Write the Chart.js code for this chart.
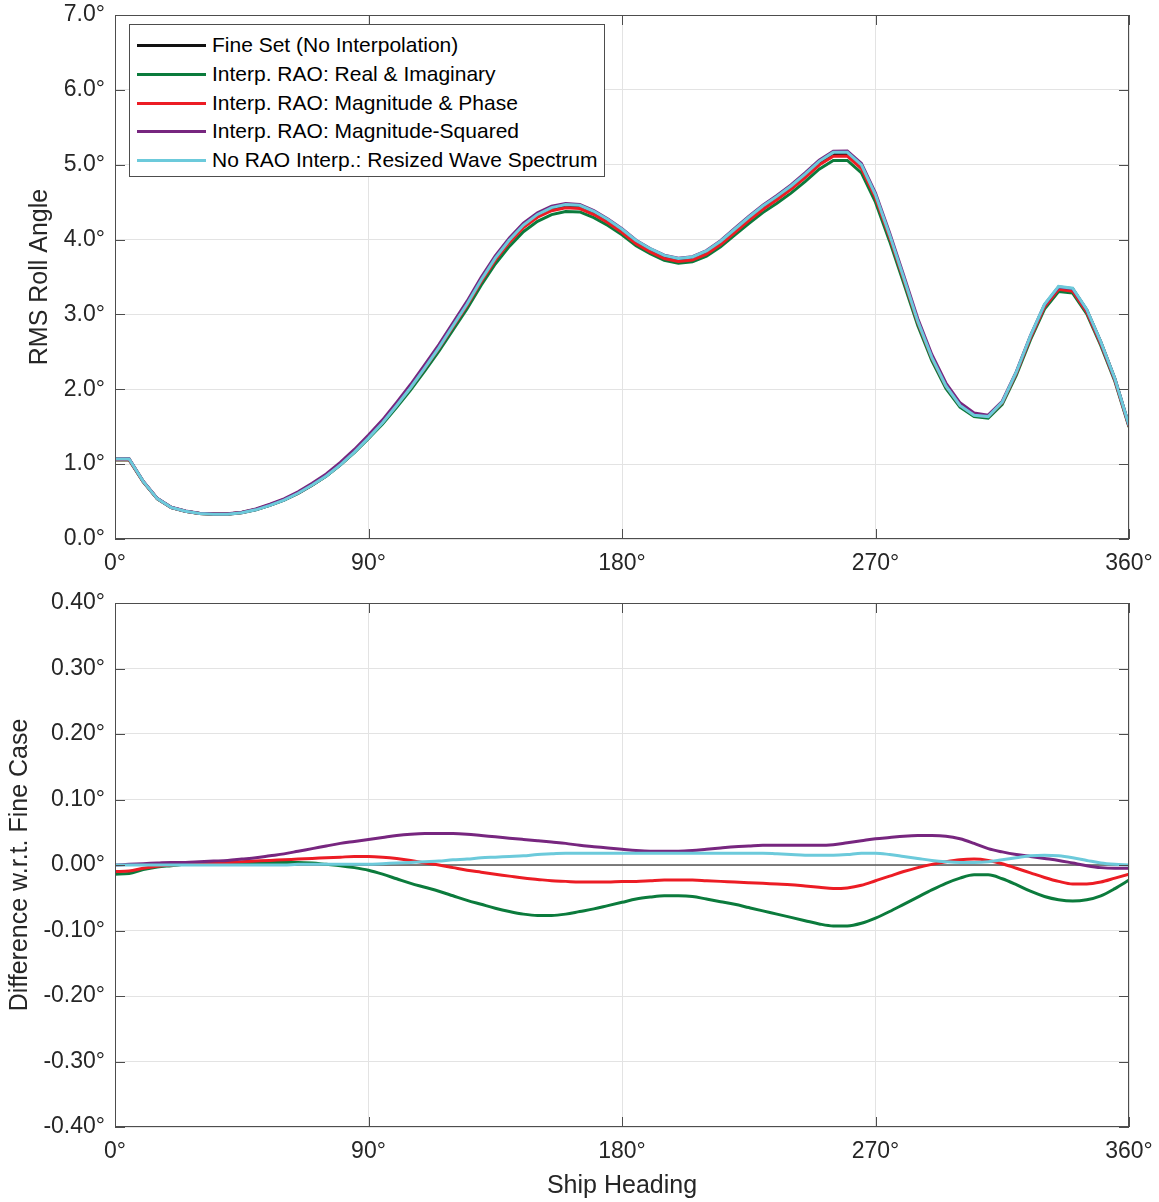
<!DOCTYPE html>
<html>
<head>
<meta charset="utf-8">
<script src="https://cdn.jsdelivr.net/npm/chart.js@4.4.1/dist/chart.umd.min.js"></script>
<style>
  body { margin: 0; background: #fff; font-family: "Liberation Sans", Arial, sans-serif; }
  #wrap { position: relative; width: 1159px; height: 1202px; }
  canvas { position: absolute; left: 0; }
  #legend { position: absolute; left: 129px; top: 24px; width: 474px; height: 151px;
            border: 1px solid #4d4d4d; background: #fff; }
  .item { position: absolute; left: 0; height: 28px; width: 100%; }
  .item .sw { position: absolute; left: 7px; top: 13px; width: 69px; height: 3px; }
  .item .tx { position: absolute; left: 82px; top: 0; font-size: 21px; line-height: 28px; color: #000; white-space: nowrap; }
</style>
</head>
<body>
<div id="wrap">
  <canvas id="rollChart" width="1159" height="580" style="top:0"></canvas>
  <canvas id="diffChart" width="1159" height="622" style="top:580px"></canvas>
  <div id="legend"></div>
</div>
<script>
// ====== DATA ======
const headings = [0, 5, 10, 15, 20, 25, 30, 35, 40, 45, 50, 55, 60, 65, 70, 75, 80, 85, 90,
  95, 100, 105, 110, 115, 120, 125, 130, 135, 140, 145, 150, 155, 160, 165, 170, 175, 180,
  185, 190, 195, 200, 205, 210, 215, 220, 225, 230, 235, 240, 245, 250, 255, 260, 265, 270,
  275, 280, 285, 290, 295, 300, 305, 310, 315, 320, 325, 330, 335, 340, 345, 350, 355, 360];

// RMS roll angle, fine set (deg)
const fineRoll = [1.07, 1.07, 0.77, 0.54, 0.42, 0.37, 0.34, 0.33, 0.33, 0.35, 0.39, 0.45, 0.52,
  0.61, 0.72, 0.84, 0.99, 1.16, 1.35, 1.55, 1.78, 2.02, 2.28, 2.55, 2.84, 3.13, 3.45, 3.74,
  3.98, 4.18, 4.32, 4.41, 4.45, 4.44, 4.36, 4.25, 4.12, 3.97, 3.86, 3.77, 3.73, 3.75, 3.83,
  3.96, 4.12, 4.28, 4.43, 4.56, 4.70, 4.86, 5.03, 5.15, 5.15, 4.98, 4.58, 4.05, 3.48, 2.90,
  2.42, 2.04, 1.78, 1.65, 1.63, 1.82, 2.22, 2.70, 3.12, 3.36, 3.34, 3.06, 2.63, 2.14, 1.52];

// difference w.r.t. fine case (deg)
const diffRealImag = [-0.014, -0.013, -0.007, -0.003, -0.001, 0.001, 0.002, 0.003, 0.003, 0.004,
  0.004, 0.004, 0.004, 0.004, 0.003, 0.001, -0.001, -0.004, -0.008, -0.014, -0.021, -0.028,
  -0.034, -0.040, -0.047, -0.054, -0.060, -0.066, -0.071, -0.075, -0.077, -0.077, -0.075,
  -0.071, -0.067, -0.062, -0.057, -0.052, -0.049, -0.047, -0.047, -0.048, -0.052, -0.056,
  -0.060, -0.065, -0.070, -0.075, -0.080, -0.085, -0.090, -0.093, -0.093, -0.089, -0.081,
  -0.071, -0.060, -0.049, -0.038, -0.028, -0.020, -0.015, -0.015, -0.021, -0.030, -0.040,
  -0.048, -0.053, -0.055, -0.053, -0.047, -0.036, -0.023];

const diffMagPhase = [-0.010, -0.009, -0.005, -0.002, 0.000, 0.001, 0.002, 0.003, 0.004, 0.005,
  0.006, 0.007, 0.008, 0.009, 0.010, 0.011, 0.012, 0.013, 0.013, 0.012, 0.010, 0.007, 0.003,
  0.000, -0.004, -0.008, -0.011, -0.014, -0.017, -0.020, -0.022, -0.024, -0.025, -0.026,
  -0.026, -0.026, -0.025, -0.025, -0.024, -0.023, -0.023, -0.023, -0.024, -0.025, -0.026,
  -0.027, -0.028, -0.029, -0.030, -0.032, -0.034, -0.036, -0.035, -0.031, -0.024, -0.017,
  -0.010, -0.004, 0.001, 0.005, 0.008, 0.009, 0.007, 0.002, -0.005, -0.012, -0.019, -0.025,
  -0.029, -0.029, -0.026, -0.020, -0.014];

const diffMagSq = [0.000, 0.001, 0.002, 0.003, 0.004, 0.004, 0.005, 0.006, 0.007, 0.009, 0.011,
  0.014, 0.017, 0.021, 0.025, 0.029, 0.033, 0.036, 0.039, 0.042, 0.045, 0.047, 0.048, 0.048,
  0.048, 0.047, 0.045, 0.043, 0.041, 0.039, 0.037, 0.035, 0.033, 0.030, 0.028, 0.026, 0.024,
  0.022, 0.021, 0.021, 0.021, 0.022, 0.024, 0.026, 0.028, 0.029, 0.030, 0.030, 0.030, 0.030,
  0.030, 0.031, 0.034, 0.037, 0.040, 0.042, 0.044, 0.045, 0.045, 0.044, 0.040, 0.033, 0.025,
  0.020, 0.016, 0.013, 0.010, 0.007, 0.003, -0.001, -0.004, -0.005, -0.005];

const diffResized = [0.000, 0.000, 0.000, 0.000, 0.000, 0.000, 0.000, 0.000, 0.000, 0.000, 0.000,
  0.000, 0.000, 0.001, 0.001, 0.001, 0.001, 0.001, 0.001, 0.002, 0.003, 0.004, 0.005, 0.006,
  0.008, 0.009, 0.011, 0.012, 0.013, 0.014, 0.016, 0.017, 0.018, 0.018, 0.018, 0.018, 0.018,
  0.018, 0.018, 0.018, 0.018, 0.018, 0.018, 0.018, 0.018, 0.018, 0.018, 0.017, 0.016, 0.015,
  0.015, 0.015, 0.016, 0.018, 0.018, 0.016, 0.013, 0.010, 0.007, 0.005, 0.004, 0.004, 0.005,
  0.008, 0.011, 0.014, 0.015, 0.014, 0.011, 0.007, 0.003, 0.001, 0.000];

// fine case against itself: zero across the full heading range
const fineDiffHeadings = [0, 360];
const fineDiff = [0, 0];

const xTicks = [0, 90, 180, 270, 360];

const seriesNames = ['Fine Set (No Interpolation)', 'Interp. RAO: Real & Imaginary',
  'Interp. RAO: Magnitude & Phase', 'Interp. RAO: Magnitude-Squared',
  'No RAO Interp.: Resized Wave Spectrum'];
const seriesColors = ['#111111', '#0b7b3c', '#ec1c24', '#77267f', '#6ccadb'];

// ====== HELPERS ======
const FONT = '"Liberation Sans", Arial, sans-serif';
const TXT = '#262626';

function pts(xs, ys) {
  return xs.map((x, i) => ({ x: x, y: ys[i] }));
}
function withFine(diff) {
  return fineRoll.map((v, i) => v + diff[i]);
}

// MATLAB-like box with inner ticks
const boxTicks = {
  id: 'boxTicks',
  afterDraw(chart) {
    const { ctx, chartArea: a, scales } = chart;
    ctx.save();
    ctx.strokeStyle = '#4d4d4d';
    ctx.lineWidth = 1;
    ctx.strokeRect(a.left + 0.5, a.top + 0.5, a.right - a.left - 1, a.bottom - a.top - 1);
    ctx.beginPath();
    scales.x.ticks.forEach(t => {
      const px = Math.round(scales.x.getPixelForValue(t.value)) + 0.5;
      ctx.moveTo(px, a.bottom); ctx.lineTo(px, a.bottom - 10);
      ctx.moveTo(px, a.top); ctx.lineTo(px, a.top + 10);
    });
    scales.y.ticks.forEach(t => {
      const py = Math.round(scales.y.getPixelForValue(t.value)) + 0.5;
      ctx.moveTo(a.left, py); ctx.lineTo(a.left + 10, py);
      ctx.moveTo(a.right, py); ctx.lineTo(a.right - 10, py);
    });
    ctx.stroke();
    ctx.restore();
  }
};

// fixed axis sizes; tick labels may overhang the box without pushing it in
function xScale(showTitle, height) {
  return {
    type: 'linear', min: 0, max: 360,
    afterBuildTicks: s => { s.ticks = xTicks.map(v => ({ value: v })); },
    afterFit: s => { s.height = height; s.paddingLeft = 0; s.paddingRight = 0; },
    grid: { color: '#e3e3e3', drawTicks: false },
    border: { display: false },
    ticks: { padding: 11, color: TXT, font: { family: FONT, size: 23 }, maxRotation: 0,
             callback: v => v + '°' },
    title: { display: showTitle, text: 'Ship Heading', color: TXT,
             font: { family: FONT, size: 25 }, padding: { top: 0, bottom: 1 } }
  };
}

function yScale(min, max, step, digits, title, titlePad) {
  return {
    type: 'linear', min: min, max: max,
    afterFit: s => { s.width = 115; s.paddingTop = 0; s.paddingBottom = 0; },
    grid: { color: '#e3e3e3', drawTicks: false },
    border: { display: false },
    ticks: { stepSize: step, padding: 10, color: TXT, font: { family: FONT, size: 23 },
             callback: v => (Math.abs(v) < 1e-9 ? 0 : v).toFixed(digits) + '°' },
    title: { display: true, text: title, color: TXT,
             font: { family: FONT, size: 25 }, padding: { top: titlePad, bottom: 0 } }
  };
}

// datasets listed top-most first, so the fine set is drawn underneath
function makeSets(data, fineWidth, fineColor) {
  return [4, 3, 2, 1, 0].map(k => ({
    label: seriesNames[k],
    data: data[k],
    borderColor: k === 0 ? fineColor : seriesColors[k],
    borderWidth: k === 0 ? fineWidth : 3,
    pointRadius: 0,
    fill: false
  }));
}

// ====== TOP: RMS ROLL ANGLE ======
const rollData = [
  pts(headings, fineRoll),
  pts(headings, withFine(diffRealImag)),
  pts(headings, withFine(diffMagPhase)),
  pts(headings, withFine(diffMagSq)),
  pts(headings, withFine(diffResized))
];

new Chart(document.getElementById('rollChart'), {
  type: 'line',
  data: { datasets: makeSets(rollData, 3, seriesColors[0]) },
  options: {
    responsive: false, animation: false, devicePixelRatio: 1,
    layout: { padding: { left: 0, right: 30, top: 15, bottom: 0 } },
    elements: { line: { tension: 0 } },
    plugins: { legend: { display: false }, tooltip: { enabled: false } },
    scales: {
      x: xScale(false, 41),
      y: yScale(0, 7, 1, 1, 'RMS Roll Angle', 25)
    }
  },
  plugins: [boxTicks]
});

// ====== BOTTOM: DIFFERENCE ======
const diffData = [
  pts(fineDiffHeadings, fineDiff),
  pts(headings, diffRealImag),
  pts(headings, diffMagPhase),
  pts(headings, diffMagSq),
  pts(headings, diffResized)
];

new Chart(document.getElementById('diffChart'), {
  type: 'line',
  data: { datasets: makeSets(diffData, 1.5, '#555555') },
  options: {
    responsive: false, animation: false, devicePixelRatio: 1,
    layout: { padding: { left: 0, right: 30, top: 23, bottom: 0 } },
    elements: { line: { cubicInterpolationMode: 'monotone' } },
    plugins: { legend: { display: false }, tooltip: { enabled: false } },
    scales: {
      x: xScale(true, 75),
      y: yScale(-0.4, 0.4, 0.1, 2, 'Difference w.r.t. Fine Case', 5)
    }
  },
  plugins: [boxTicks]
});

// ====== LEGEND ======
const legend = document.getElementById('legend');
seriesNames.forEach((name, i) => {
  const row = document.createElement('div');
  row.className = 'item';
  row.style.top = (6 + i * 28.8) + 'px';
  row.innerHTML = '<div class="sw" style="background:' + seriesColors[i] + '"></div>' +
                  '<div class="tx">' + name.replace('&', '&amp;') + '</div>';
  legend.appendChild(row);
});
</script>
</body>
</html>
